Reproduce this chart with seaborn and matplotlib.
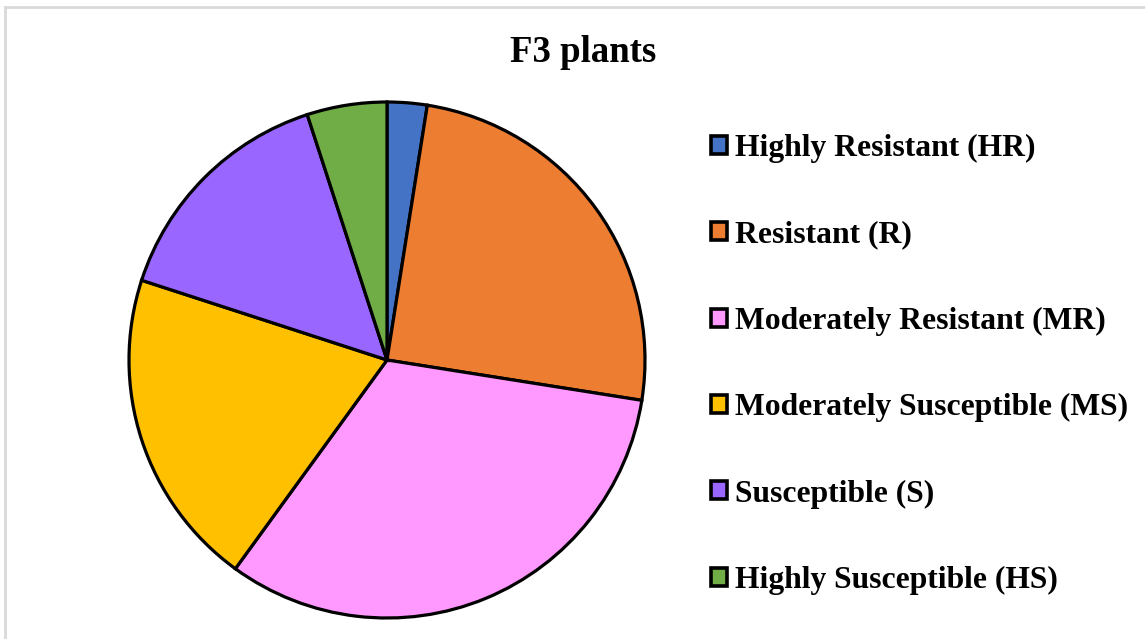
import matplotlib
matplotlib.use("Agg")
import matplotlib.pyplot as plt
import matplotlib.patches as mpatches
import seaborn as sns

categories = ["Highly Resistant (HR)", "Resistant (R)", "Moderately Resistant (MR)",
              "Moderately Susceptible (MS)", "Susceptible (S)", "Highly Susceptible (HS)"]
plants = [1, 10, 13, 8, 6, 2]
colors = ["#4472C4", "#ED7D31", "#FF99FF", "#FFC000", "#9966FF", "#70AD47"]

sns.set_theme(style="white")
plt.rcParams["font.family"] = ["Liberation Serif", "DejaVu Serif"]
plt.rcParams["font.weight"] = "bold"
plt.rcParams["text.color"] = "black"

fig = plt.figure(figsize=(11.45, 6.39), dpi=100)
ax = fig.add_axes([129 / 1145, 21 / 639, 516 / 1145, 516 / 639])

wedges, _ = ax.pie(plants, colors=colors, startangle=90, counterclock=False,
                   radius=1.0, wedgeprops=dict(edgecolor="black", linewidth=2.3))
ax.set_xlim(-1.0, 1.0)
ax.set_ylim(-1.0, 1.0)
ax.set_aspect("equal")

fig.text(583 / 1145, 1 - 52 / 639, "F3 plants", ha="center", va="center",
         fontsize=26.5, fontweight="bold", color="black")

handles = [mpatches.Patch(facecolor=c, edgecolor="black", linewidth=2.6) for c in colors]
leg = fig.legend(handles, categories, loc="upper left", bbox_to_anchor=(711 / 1145, 1 - 134 / 639),
                 frameon=False, prop=dict(size=22.8, weight="bold"),
                 handlelength=0.5, handleheight=0.5, handletextpad=0.25,
                 labelspacing=1.81, borderpad=0, borderaxespad=0)
for t in leg.get_texts():
    t.set_color("black")

# light grey frame around the chart area
fig.add_artist(mpatches.Rectangle((5 / 1145, -0.02), 1.1, 1 - 7 / 639 + 0.02,
                                  transform=fig.transFigure, fill=False,
                                  edgecolor="#d9d9d9", linewidth=2))

fig.savefig("out.png", dpi=100)
